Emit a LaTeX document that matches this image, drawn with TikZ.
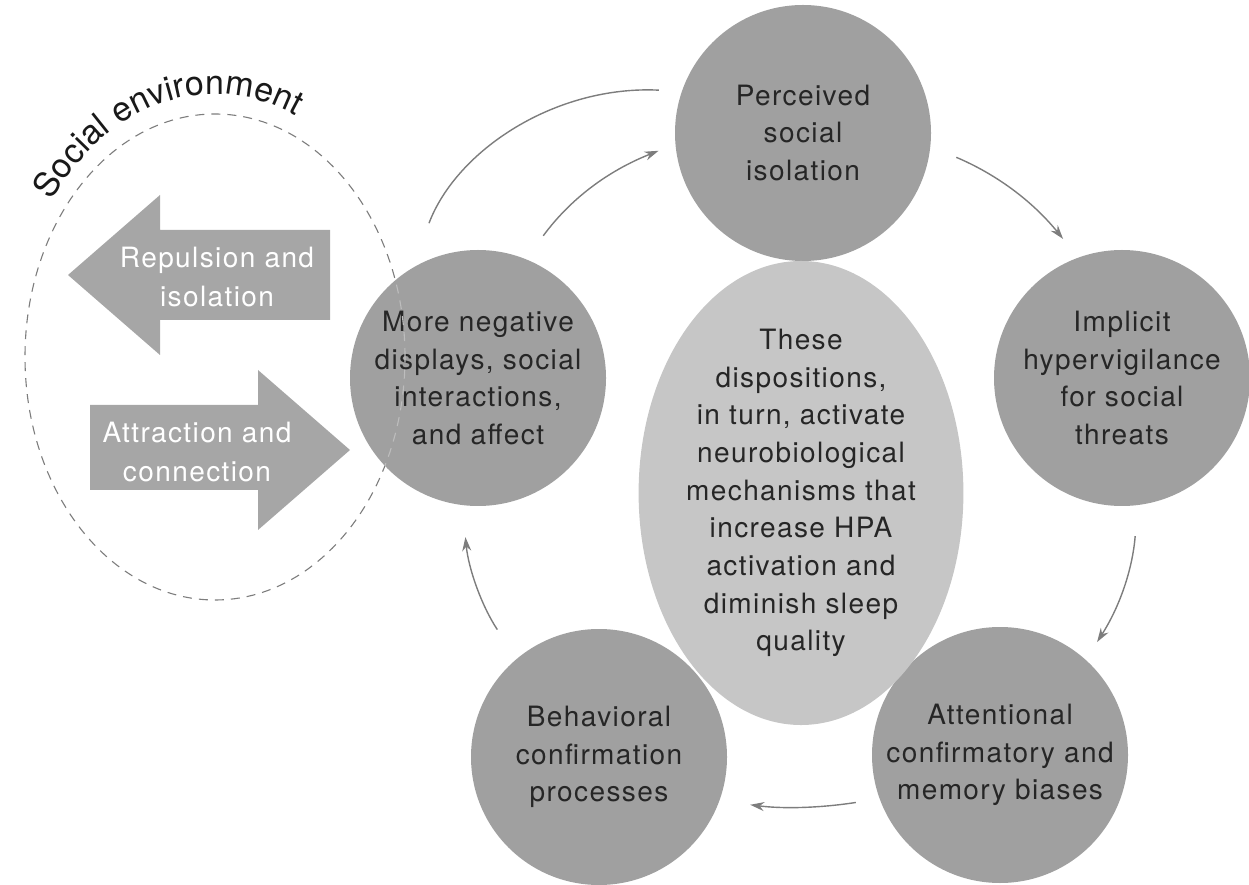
\documentclass[tikz,border=0pt]{standalone}
\usepackage{fontspec}
\newfontfamily\heros{TeX Gyre Heros}[LetterSpace=5]
\newfontfamily\herosplain{TeX Gyre Heros}
\usetikzlibrary{arrows.meta,shapes.geometric,decorations.text}
\definecolor{circgray}{RGB}{160,160,160}
\definecolor{dispgray}{RGB}{198,198,198}
\definecolor{arrgray}{RGB}{166,166,166}
\definecolor{linegray}{RGB}{125,125,125}
\definecolor{inkgray}{RGB}{38,38,38}

\begin{document}
\begin{tikzpicture}[x=1pt,y=1pt,
    stage/.style={circle,fill=circgray,minimum size=256pt,inner sep=0pt,align=center,
        text=inkgray,font=\heros\fontsize{28}{37.5}\selectfont},
    flow/.style={draw=linegray,line width=1.4pt,-{Stealth[length=14pt,width=9pt]}},
    envline/.style={draw=linegray,line width=1.1pt,dash pattern=on 9pt off 7pt},
    pushtext/.style={text=white,align=center,font=\heros\fontsize{28}{39}\selectfont}]
    \useasboundingbox (0,0) rectangle (1249,884);

    \draw[envline] (215,527) ellipse [x radius=190, y radius=243];
    \path[decorate,decoration={text along path,text align=center,text color=black!90,
        text={|\herosplain\fontsize{34}{34}\selectfont|Social environment}}]
        ([shift={(144:203 and 263)}]215,527) arc[start angle=144,end angle=66,x radius=203,y radius=263];

    \fill[arrgray] (68,609) -- (160,689) -- (160,654) -- (330,654) -- (330,564) -- (160,564) -- (160,529) -- cycle;
    \fill[arrgray] (350,434) -- (258,514) -- (258,479) -- (90,479) -- (90,394) -- (258,394) -- (258,354) -- cycle;
    \node[pushtext] (repel) at (217,607) {Repulsion and\\isolation};
    \node[pushtext] (attract) at (197,432) {Attraction and\\connection};

    \node[stage] (percv) at (803,751) {Perceived\\social\\isolation};
    \node[stage] (hyper) at (1122,506) {Implicit\\hypervigilance\\for social\\threats};
    \node[stage] (attn) at (1000,129) {Attentional\\confirmatory and\\memory biases};
    \node[stage] (behav) at (599,127) {Behavioral\\confirmation\\processes};
    \node[stage] (negdisp) at (478,506) {More negative\\displays, social\\interactions,\\and affect};
    \node[ellipse,fill=dispgray,minimum width=318pt,minimum height=388pt,inner sep=0pt,align=center,
        text=inkgray,font=\heros\fontsize{28}{37.7}\selectfont] (disp) at (801,391)
        {These\\dispositions,\\in turn, activate\\neurobiological\\mechanisms that\\increase HPA\\activation and\\diminish sleep\\quality};

    \begin{scope}
        \clip (negdisp.center) circle [radius=128];
        \draw[envline,draw=circgray!70!white] (215,527) ellipse [x radius=190, y radius=243];
    \end{scope}

    \draw[flow,-,shorten <=48pt,shorten >=23pt] (negdisp.121) to[bend left=36] (percv.161);
    \draw[flow,shorten <=29pt,shorten >=18pt] (negdisp.68) to[bend left=16] (percv.185);
    \draw[flow,shorten <=28pt,shorten >=24pt] (percv.-6) to[bend left=14] (hyper.110);
    \draw[flow,shorten <=31pt,shorten >=21pt] (hyper.-83) to[bend left=14] (attn.48);
    \draw[flow,shorten <=24pt,shorten >=31pt] (attn.-160) to[bend left=8] (behav.-20);
    \draw[flow,shorten <=35pt,shorten >=32pt] (behav.130) to[bend left=14] (negdisp.263);
\end{tikzpicture}
\end{document}
